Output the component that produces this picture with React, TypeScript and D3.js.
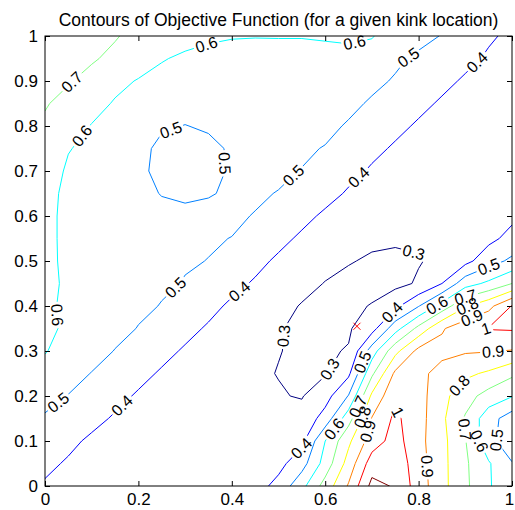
import React, { useEffect, useRef } from 'react';
import * as d3 from 'd3';

// sample grid: columns left to right, rows from y = 1 (top) down to y = 0
const gridX = [0, 0.05, 0.1, 0.15, 0.2, 0.25, 0.3, 0.35, 0.4, 0.45, 0.5, 0.55, 0.6, 0.65, 0.7, 0.75, 0.8, 0.85, 0.9, 0.95, 1];
const gridY = [1, 0.95, 0.9, 0.85, 0.8, 0.75, 0.7, 0.65, 0.6, 0.55, 0.5, 0.45, 0.4, 0.35, 0.3, 0.25, 0.2, 0.15, 0.1, 0.05, 0];

// objective function values, one row per gridY entry
const zRows = [
  [0.76, 0.745, 0.725, 0.705, 0.68, 0.645, 0.625, 0.608, 0.602, 0.601, 0.601, 0.601, 0.603, 0.608, 0.6035, 0.57, 0.535, 0.495, 0.455, 0.41, 0.385],
  [0.74, 0.725, 0.707, 0.685, 0.655, 0.605, 0.588, 0.585, 0.588, 0.59, 0.592, 0.592, 0.59, 0.585, 0.575, 0.52, 0.48, 0.45, 0.42, 0.39, 0.375],
  [0.72, 0.705, 0.68, 0.63, 0.593, 0.578, 0.57, 0.568, 0.57, 0.575, 0.578, 0.578, 0.575, 0.56, 0.525, 0.49, 0.455, 0.42, 0.39, 0.37, 0.365],
  [0.705, 0.68, 0.64, 0.59, 0.565, 0.55, 0.53, 0.54, 0.55, 0.555, 0.56, 0.56, 0.55, 0.525, 0.487, 0.455, 0.42, 0.39, 0.365, 0.355, 0.355],
  [0.69, 0.645, 0.595, 0.56, 0.535, 0.51, 0.498, 0.51, 0.525, 0.535, 0.54, 0.54, 0.525, 0.49, 0.455, 0.42, 0.39, 0.365, 0.355, 0.345, 0.345],
  [0.68, 0.605, 0.575, 0.55, 0.525, 0.48, 0.465, 0.48, 0.51, 0.525, 0.525, 0.515, 0.495, 0.46, 0.42, 0.39, 0.37, 0.355, 0.345, 0.34, 0.34],
  [0.655, 0.585, 0.565, 0.54, 0.52, 0.475, 0.46, 0.475, 0.51, 0.52, 0.515, 0.497, 0.465, 0.425, 0.39, 0.365, 0.35, 0.34, 0.335, 0.335, 0.335],
  [0.635, 0.575, 0.56, 0.54, 0.52, 0.497, 0.485, 0.495, 0.51, 0.51, 0.497, 0.475, 0.43, 0.39, 0.36, 0.345, 0.335, 0.33, 0.33, 0.33, 0.335],
  [0.63, 0.572, 0.55, 0.535, 0.525, 0.52, 0.52, 0.52, 0.51, 0.497, 0.465, 0.425, 0.385, 0.355, 0.335, 0.325, 0.32, 0.32, 0.325, 0.335, 0.38],
  [0.63, 0.572, 0.545, 0.53, 0.52, 0.515, 0.51, 0.505, 0.499, 0.47, 0.425, 0.385, 0.355, 0.33, 0.315, 0.31, 0.31, 0.32, 0.34, 0.375, 0.43],
  [0.635, 0.57, 0.54, 0.525, 0.515, 0.51, 0.505, 0.499, 0.47, 0.425, 0.385, 0.355, 0.325, 0.305, 0.29, 0.285, 0.295, 0.32, 0.37, 0.46, 0.52],
  [0.64, 0.575, 0.55, 0.535, 0.52, 0.51, 0.497, 0.465, 0.425, 0.39, 0.36, 0.325, 0.297, 0.28, 0.27, 0.275, 0.31, 0.4, 0.56, 0.62, 0.7],
  [0.63, 0.57, 0.545, 0.53, 0.515, 0.497, 0.465, 0.425, 0.385, 0.355, 0.325, 0.295, 0.28, 0.28, 0.305, 0.375, 0.495, 0.64, 0.79, 0.87, 1.005],
  [0.625, 0.58, 0.54, 0.525, 0.497, 0.465, 0.425, 0.39, 0.355, 0.33, 0.305, 0.285, 0.275, 0.29, 0.36, 0.56, 0.73, 0.89, 0.96, 1.005, 1.01],
  [0.605, 0.565, 0.535, 0.497, 0.465, 0.425, 0.39, 0.36, 0.335, 0.315, 0.302, 0.29, 0.29, 0.305, 0.55, 0.77, 0.93, 0.93, 0.91, 0.905, 0.895],
  [0.57, 0.535, 0.497, 0.465, 0.425, 0.39, 0.36, 0.335, 0.32, 0.31, 0.298, 0.29, 0.293, 0.38, 0.68, 0.92, 0.93, 0.86, 0.82, 0.785, 0.72],
  [0.53, 0.497, 0.46, 0.425, 0.39, 0.36, 0.34, 0.325, 0.315, 0.31, 0.305, 0.295, 0.36, 0.505, 0.82, 0.98, 0.94, 0.83, 0.74, 0.66, 0.605],
  [0.49, 0.46, 0.425, 0.39, 0.36, 0.345, 0.335, 0.325, 0.32, 0.315, 0.315, 0.33, 0.44, 0.66, 0.905, 1.02, 0.94, 0.82, 0.69, 0.54, 0.45],
  [0.45, 0.42, 0.385, 0.36, 0.345, 0.335, 0.33, 0.325, 0.325, 0.33, 0.35, 0.375, 0.6, 0.78, 0.95, 1.04, 0.93, 0.83, 0.705, 0.53, 0.44],
  [0.42, 0.39, 0.365, 0.35, 0.34, 0.335, 0.33, 0.33, 0.335, 0.35, 0.37, 0.46, 0.64, 0.84, 1.05, 1.07, 0.94, 0.83, 0.715, 0.61, 0.505],
  [0.39, 0.37, 0.355, 0.345, 0.34, 0.335, 0.335, 0.335, 0.34, 0.36, 0.43, 0.57, 0.74, 0.91, 1.13, 1.09, 0.95, 0.83, 0.72, 0.61, 0.53],
];

const levels = [0.3, 0.4, 0.5, 0.6, 0.7, 0.8, 0.9, 1.0, 1.1];
const xTicks = [0, 0.2, 0.4, 0.6, 0.8, 1];
const yTicks = [0, 0.1, 0.2, 0.3, 0.4, 0.5, 0.6, 0.7, 0.8, 0.9, 1];
const kinkPoint = [0.668, 0.355];

// where clabel put its labels: [level, x, y]
const labelAnchors = [
  [0.6, 0.346, 0.98], [0.6, 0.665, 0.975], [0.5, 0.782, 0.947], [0.4, 0.924, 0.943],
  [0.7, 0.06, 0.895], [0.6, 0.082, 0.776], [0.5, 0.275, 0.776], [0.5, 0.382, 0.717],
  [0.5, 0.535, 0.687], [0.4, 0.671, 0.687], [0.5, 0.278, 0.443], [0.4, 0.417, 0.432],
  [0.6, 0.024, 0.38], [0.5, 0.025, 0.19], [0.4, 0.16, 0.184],
  [0.3, 0.789, 0.517], [0.3, 0.528, 0.332], [0.3, 0.625, 0.25],
  [0.4, 0.74, 0.39], [0.5, 0.685, 0.273], [0.6, 0.835, 0.41],
  [0.7, 0.899, 0.424], [0.8, 0.903, 0.402], [0.9, 0.91, 0.384], [0.5, 0.949, 0.491],
  [1.0, 0.939, 0.347], [0.9, 0.96, 0.295], [0.8, 0.878, 0.232], [0.7, 0.889, 0.124],
  [0.6, 0.917, 0.095], [0.5, 0.967, 0.102], [0.9, 0.807, 0.043], [1.0, 0.764, 0.169],
  [0.4, 0.553, 0.08], [0.6, 0.632, 0.117], [0.7, 0.685, 0.169], [0.8, 0.696, 0.147], [0.9, 0.707, 0.117],
];

// matlab jet colormap
function jet(t: number) {
  const c = (v: number) => Math.round(255 * Math.max(0, Math.min(1, v)));
  return `rgb(${c(1.5 - Math.abs(4 * t - 3))},${c(1.5 - Math.abs(4 * t - 2))},${c(1.5 - Math.abs(4 * t - 1))})`;
}

export default function App() {
  const svgRef = useRef<SVGSVGElement>(null);

  useEffect(() => {
    const w = 515;
    const h = 510;
    const left = 45, right = 512, top = 36, bottom = 486;
    const font = "'Liberation Sans', Arial, sans-serif";

    const svg = d3.select(svgRef.current)
      .attr('width', w)
      .attr('height', h)
      .style('position', 'absolute')
      .style('left', 0)
      .style('top', 0)
      .style('background', '#fff');
    svg.selectAll('*').remove();

    const x = d3.scaleLinear().domain([0, 1]).range([left, right]);
    const y = d3.scaleLinear().domain([0, 1]).range([bottom, top]);

    // d3.contours puts sample k at grid coordinate k + 0.5
    const nx = gridX.length;
    const ny = gridY.length;
    const gx = d3.scaleLinear().domain([0.5, nx - 0.5]).range([x(gridX[0]), x(gridX[nx - 1])]);
    const gy = d3.scaleLinear().domain([0.5, ny - 0.5]).range([y(gridY[0]), y(gridY[ny - 1])]);

    const contours = d3.contours().size([nx, ny]).thresholds(levels)(zRows.flat());
    const path = d3.geoPath(d3.geoTransform({
      point(px: number, py: number) { this.stream.point(gx(px), gy(py)); }
    }));
    const colorOf = (v: number) => jet((v - levels[0]) / (levels[levels.length - 1] - levels[0]));

    const defs = svg.append('defs');
    defs.append('clipPath').attr('id', 'plot-clip')
      .append('rect')
      .attr('x', left).attr('y', top)
      .attr('width', right - left).attr('height', bottom - top);

    // contour lines, each level masked where its labels sit
    svg.append('g')
      .attr('clip-path', 'url(#plot-clip)')
      .selectAll('path')
      .data(contours)
      .join('path')
        .attr('d', d => path(d as any))
        .attr('fill', 'none')
        .attr('stroke', d => colorOf(d.value))
        .attr('stroke-width', 1)
        .attr('mask', (d, i) => `url(#lbl-mask-${i})`);

    // find where each label sits on its line, and the line's slope there
    const inside = (p: number[]) => p[0] >= left - 0.5 && p[0] <= right + 0.5 && p[1] >= top - 0.5 && p[1] <= bottom + 0.5;
    const placed = labelAnchors.map(([lv, lx, ly]) => {
      const idx = levels.findIndex(l => Math.abs(l - lv) < 1e-6);
      const c = contours[idx];
      const tx = x(lx), ty = y(ly);
      let best = { d: Infinity, px: tx, py: ty, a: 0 };
      c.coordinates.forEach(poly => poly.forEach(ring => {
        const pts = ring.map(([a, b]) => [gx(a), gy(b)]);
        for (let i = 0; i < pts.length - 1; i++) {
          const p = pts[i], q = pts[i + 1];
          if (!inside(p) || !inside(q)) continue;
          const dx = q[0] - p[0], dy = q[1] - p[1];
          const len2 = dx * dx + dy * dy;
          if (len2 === 0) continue;
          const t = Math.max(0, Math.min(1, ((tx - p[0]) * dx + (ty - p[1]) * dy) / len2));
          const px = p[0] + t * dx, py = p[1] + t * dy;
          const dd = (px - tx) ** 2 + (py - ty) ** 2;
          if (dd < best.d) {
            let a = Math.atan2(dy, dx) * 180 / Math.PI;
            if (a > 90) a -= 180;
            if (a <= -90) a += 180;
            best = { d: dd, px, py, a };
          }
        }
      }));
      return { idx, text: String(+lv.toFixed(1)), ...best };
    });

    const labels = svg.append('g')
      .selectAll('g')
      .data(placed)
      .join('g')
        .attr('transform', d => `translate(${d.px},${d.py}) rotate(${d.a})`);
    labels.append('text')
      .attr('text-anchor', 'middle')
      .attr('dy', '0.35em')
      .attr('font-family', font)
      .attr('font-size', 16)
      .attr('fill', '#000')
      .text(d => d.text);

    const widths = labels.select('text').nodes().map(n => (n as SVGTextElement).getComputedTextLength());

    levels.forEach((lv, i) => {
      const m = defs.append('mask')
        .attr('id', `lbl-mask-${i}`)
        .attr('maskUnits', 'userSpaceOnUse')
        .attr('x', 0).attr('y', 0).attr('width', w).attr('height', h);
      m.append('rect').attr('width', w).attr('height', h).attr('fill', '#fff');
      placed.forEach((d, k) => {
        if (d.idx !== i) return;
        m.append('rect')
          .attr('x', -widths[k] / 2 - 2)
          .attr('y', -7)
          .attr('width', widths[k] + 4)
          .attr('height', 14)
          .attr('fill', '#000')
          .attr('transform', `translate(${d.px},${d.py}) rotate(${d.a})`);
      });
    });

    // kink location marker
    const kx = x(kinkPoint[0]), ky = y(kinkPoint[1]);
    svg.append('path')
      .attr('d', `M${kx - 3.5},${ky - 3.5}L${kx + 3.5},${ky + 3.5}M${kx - 3.5},${ky + 3.5}L${kx + 3.5},${ky - 3.5}`)
      .attr('stroke', '#ff0000')
      .attr('stroke-width', 1)
      .attr('fill', 'none');

    // axes: inward ticks on all four sides
    const styleAxis = (g: any) => {
      g.select('.domain').remove();
      g.selectAll('line').attr('stroke', '#000');
      g.selectAll('text').attr('fill', '#000').attr('font-family', font).attr('font-size', 17);
    };
    svg.append('g')
      .attr('transform', `translate(0,${bottom})`)
      .call(d3.axisBottom(x).tickValues(xTicks).tickSizeInner(-5).tickSizeOuter(0).tickPadding(7).tickFormat(d => String(d)))
      .call(styleAxis)
      .call(g => g.selectAll('text').filter(d => d === xTicks[xTicks.length - 1]).attr('dx', -3));
    svg.append('g')
      .attr('transform', `translate(0,${top})`)
      .call(d3.axisTop(x).tickValues(xTicks).tickSizeInner(-5).tickSizeOuter(0).tickFormat(() => ''))
      .call(styleAxis);
    svg.append('g')
      .attr('transform', `translate(${left},0)`)
      .call(d3.axisLeft(y).tickValues(yTicks).tickSizeInner(-5).tickSizeOuter(0).tickPadding(7).tickFormat(d => String(d)))
      .call(styleAxis);
    svg.append('g')
      .attr('transform', `translate(${right},0)`)
      .call(d3.axisRight(y).tickValues(yTicks).tickSizeInner(-5).tickSizeOuter(0).tickFormat(() => ''))
      .call(styleAxis);

    svg.append('rect')
      .attr('x', left).attr('y', top)
      .attr('width', right - left).attr('height', bottom - top)
      .attr('fill', 'none')
      .attr('stroke', '#000')
      .attr('stroke-width', 1);

    svg.append('text')
      .attr('x', (left + right) / 2)
      .attr('y', 26)
      .attr('text-anchor', 'middle')
      .attr('font-family', font)
      .attr('font-size', 17.5)
      .attr('fill', '#000')
      .text('Contours of Objective Function (for a given kink location)');
  }, []);

  return (
    <div className="ContourChart">
      <svg ref={svgRef}></svg>
    </div>
  );
}
